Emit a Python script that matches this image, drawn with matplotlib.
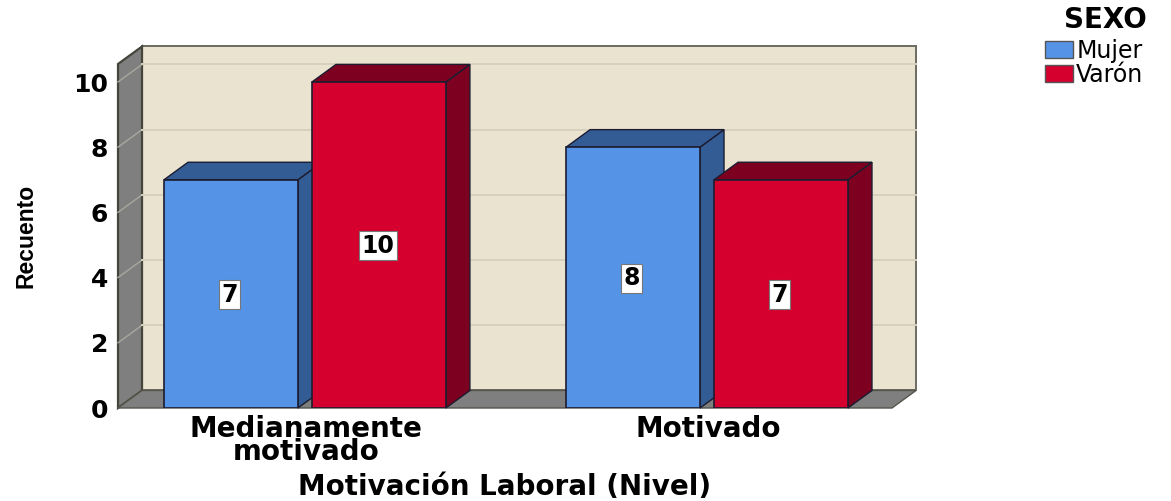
# Barras agrupadas con efecto 3D: Motivacion Laboral por sexo
import matplotlib
matplotlib.use("Agg")
import matplotlib.pyplot as plt
from matplotlib.patches import Patch, Polygon

categorias = ["Medianamente\nmotivado", "Motivado"]
series = ["Mujer", "Varón"]
mujer = [7, 8]
varon = [10, 7]
valores_y = [0, 2, 4, 6, 8, 10]

ANCHO, ALTO = 1171, 501
ancho_barra = 0.333
desp = 0.184
dx = 24 / 402  # profundidad en unidades de x
dy = 0.537     # profundidad en unidades de y
xmin, xmax = -0.465, 1.46
ymax = 10.55

colores = {"Mujer": ("#5593e6", "#345c94"), "Varón": ("#d5002e", "#7e0020")}
borde = "#1c1c30"

fig = plt.figure(figsize=(ANCHO / 100, ALTO / 100), dpi=100)
ax = fig.add_axes([118 / ANCHO, (ALTO - 408) / ALTO, 774 / ANCHO, 344 / ALTO])
ax.set_xlim(xmin, xmax)
ax.set_ylim(0, ymax)
ax.axis("off")


def poli(puntos, color, z, ec="#4a4a40", lw=1.0):
    ax.add_patch(Polygon(puntos, closed=True, fc=color, ec=ec, lw=lw, zorder=z, clip_on=False))


# paredes: fondo, lateral y piso
poli([(xmin + dx, dy), (xmax + dx, dy), (xmax + dx, ymax + dy), (xmin + dx, ymax + dy)], "#e9e3cf", 1, "#6b6b5f", 1.4)
poli([(xmin, 0), (xmin + dx, dy), (xmin + dx, ymax + dy), (xmin, ymax)], "#7f7f7f", 1, "#45453c", 1.6)
poli([(xmin, 0), (xmax, 0), (xmax + dx, dy), (xmin + dx, dy)], "#7f7f7f", 1.5, "#55554c", 1.0)

# lineas de rejilla
for v in valores_y[1:]:
    ax.plot([xmin, xmin + dx], [v, v + dy], color="#a8a8a0", lw=1, zorder=2, clip_on=False)
    ax.plot([xmin + dx, xmax + dx], [v + dy, v + dy], color="#d6d0bd", lw=1.4, zorder=2, clip_on=False)


def barra(x, v, claro, oscuro, z):
    izq, der = x - ancho_barra / 2, x + ancho_barra / 2
    poli([(der, 0), (der + dx, dy), (der + dx, v + dy), (der, v)], oscuro, z, borde, 1.0)
    poli([(izq, v), (der, v), (der + dx, v + dy), (izq + dx, v + dy)], oscuro, z, borde, 1.0)
    ax.bar(x, v, ancho_barra, color=claro, edgecolor=borde, linewidth=1.2, zorder=z + 0.1)
    ax.text(x - 0.003, v / 2 - 0.02, str(v), ha="center", va="center", fontsize=17, fontweight="bold",
            color="black", zorder=z + 0.2,
            bbox=dict(boxstyle="square,pad=0.1", fc="white", ec="#777777", lw=0.8))


for i in range(len(categorias)):
    barra(i - desp, mujer[i], *colores["Mujer"], 3 + i * 2)
    barra(i + desp, varon[i], *colores["Varón"], 4 + i * 2)

# etiquetas
for v in valores_y:
    ax.text(xmin - 0.024, v - 0.08, str(v), ha="right", va="center", fontsize=18, fontweight="bold")
for i, c in enumerate(categorias):
    ax.text(i + 0.002, -0.2, c, ha="center", va="top", fontsize=20, fontweight="bold", linespacing=0.8)

fig.text(505 / ANCHO, (ALTO - 487) / ALTO, "Motivación Laboral (Nivel)", ha="center", va="center",
         fontsize=20, fontweight="bold")
fig.text(26 / ANCHO, (ALTO - 236) / ALTO, "Recuento", rotation=90, ha="center", va="center",
         fontsize=16.5, fontweight="bold", family=["Liberation Sans"])

# leyenda
fig.text(1105 / ANCHO, (ALTO - 20) / ALTO, "SEXO", ha="center", va="center", fontsize=20, fontweight="bold")
manijas = [Patch(fc=colores[s][0], ec="#555555", label=s) for s in series]
fig.legend(handles=manijas, loc="upper left", bbox_to_anchor=(1045 / ANCHO, 1 - 39 / ALTO),
           frameon=False, fontsize=17, handlelength=1.2, handleheight=0.72, handletextpad=0.12,
           labelspacing=0.0, borderpad=0, borderaxespad=0)

fig.savefig("out.png", dpi=100)
